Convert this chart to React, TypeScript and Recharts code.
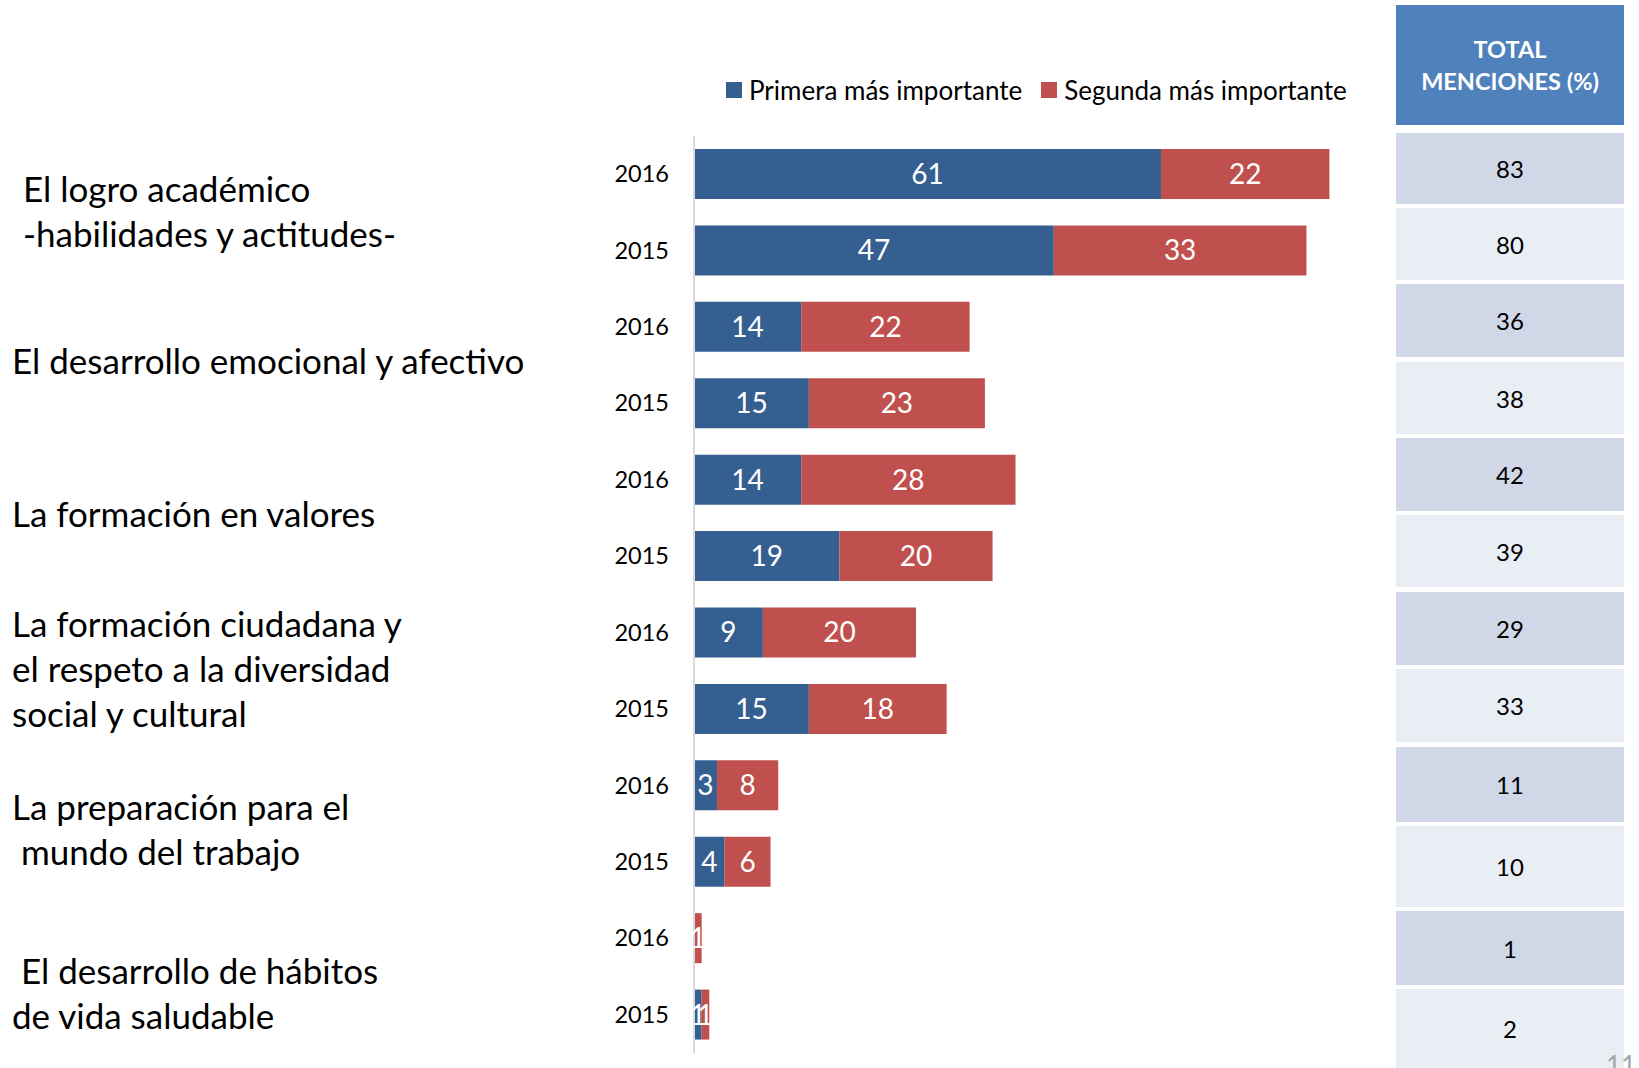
import React from 'react';
import { BarChart, Bar, XAxis, YAxis, LabelList } from 'recharts';

const years = ['2016', '2015', '2016', '2015', '2016', '2015', '2016', '2015', '2016', '2015', '2016', '2015'];
const primera = [61, 47, 14, 15, 14, 19, 9, 15, 3, 4, 0, 1];
const segunda = [22, 33, 22, 23, 28, 20, 20, 18, 8, 6, 1, 1];
const totals = [83, 80, 36, 38, 42, 39, 29, 33, 11, 10, 1, 2];
const groupLabels = [
  ['El logro académico', '-habilidades y actitudes-'],
  ['El desarrollo emocional y afectivo'],
  ['La formación en valores'],
  ['La formación ciudadana y', 'el respeto a la diversidad', 'social y cultural'],
  ['La preparación para el', ' mundo del trabajo'],
  [' El desarrollo de hábitos', 'de vida saludable'],
];
const legendNames = ['Primera más importante', 'Segunda más importante'];

const data = years.map((y, i) => ({ id: i, year: y, primera: primera[i], segunda: segunda[i] }));

const BLUE = '#365F91';
const RED = '#C0504D';
const FONT = 'Lato, "Open Sans", sans-serif';

// layout constants
const groupLabelLayout = [
  { left: 23, top: 166 },
  { left: 12, top: 338 },
  { left: 12, top: 491 },
  { left: 12, top: 601 },
  { left: 12, top: 784 },
  { left: 12, top: 948 },
];
const rowTops = [133, 208, 284, 362, 438, 515, 592, 669, 747, 826, 911, 989];
const rowBottoms = [204, 280, 357, 434, 511, 587, 665, 742, 822, 907, 985, 1068];

const YearTick = (props: any) => {
  const { x, y, payload } = props;
  return (
    <text x={x} y={y} dy={8} textAnchor="end" fontSize={23.5} fill="#000" fontFamily={FONT}>
      {years[payload.value]}
    </text>
  );
};

const Legend2 = () => (
  <div style={{ position: 'absolute', left: 726, top: 74, display: 'flex', alignItems: 'center', fontFamily: FONT, fontSize: 26, color: '#000' }}>
    {legendNames.map((n, i) => (
      <div key={n} style={{ display: 'flex', alignItems: 'center', marginRight: 19 }}>
        <div style={{ width: 16, height: 16, background: i === 0 ? BLUE : RED, marginRight: 7 }} />
        <span>{n}</span>
      </div>
    ))}
  </div>
);

export default function App() {
  return (
    <div style={{ position: 'absolute', left: 0, top: 0, width: 1639, height: 1068, overflow: 'hidden', background: '#fff', fontFamily: FONT }}>
      <BarChart
        width={1639}
        height={1068}
        data={data}
        layout="vertical"
        margin={{ top: 136, right: 256, bottom: 15, left: 0 }}
        barSize={50}
      >
        <XAxis type="number" domain={[0, 90]} hide />
        <YAxis
          type="category"
          dataKey="id"
          width={694}
          tick={<YearTick />}
          tickLine={false}
          tickSize={0}
          tickMargin={25}
          axisLine={{ stroke: '#d9d9d9', strokeWidth: 2 }}
          interval={0}
        />
        <Bar dataKey="primera" stackId="a" fill={BLUE} isAnimationActive={false}>
          <LabelList dataKey="primera" position="center" fill="#fff" fontSize={28} fontFamily={FONT} />
        </Bar>
        <Bar dataKey="segunda" stackId="a" fill={RED} isAnimationActive={false}>
          <LabelList dataKey="segunda" position="center" fill="#fff" fontSize={28} fontFamily={FONT} />
        </Bar>
      </BarChart>

      <Legend2 />

      {groupLabels.map((lines, i) => (
        <div key={i} style={{ position: 'absolute', left: groupLabelLayout[i].left, top: groupLabelLayout[i].top, fontSize: 35, lineHeight: '45px', color: '#000', whiteSpace: 'pre' }}>
          {lines.map((l, j) => (
            <div key={j}>{l}</div>
          ))}
        </div>
      ))}

      <div style={{ position: 'absolute', left: 1396, top: 5, width: 228, height: 120, background: '#4F81BD', color: '#fff', fontWeight: 700, fontSize: 23.5, lineHeight: '32px', display: 'flex', flexDirection: 'column', alignItems: 'center', justifyContent: 'center' }}>
        <div>TOTAL</div>
        <div>MENCIONES (%)</div>
      </div>

      {totals.map((t, i) => (
        <div key={i} style={{ position: 'absolute', left: 1396, top: rowTops[i], width: 228, height: rowBottoms[i] - rowTops[i], background: i % 2 === 0 ? '#D0D8E8' : '#E9EDF4', display: 'flex', alignItems: 'center', justifyContent: 'center', fontSize: 24, color: '#000' }}>
          {t}
        </div>
      ))}

      <div style={{ position: 'absolute', left: 1606, top: 1049, fontSize: 26, color: '#a6a6a6' }}>11</div>
    </div>
  );
}
